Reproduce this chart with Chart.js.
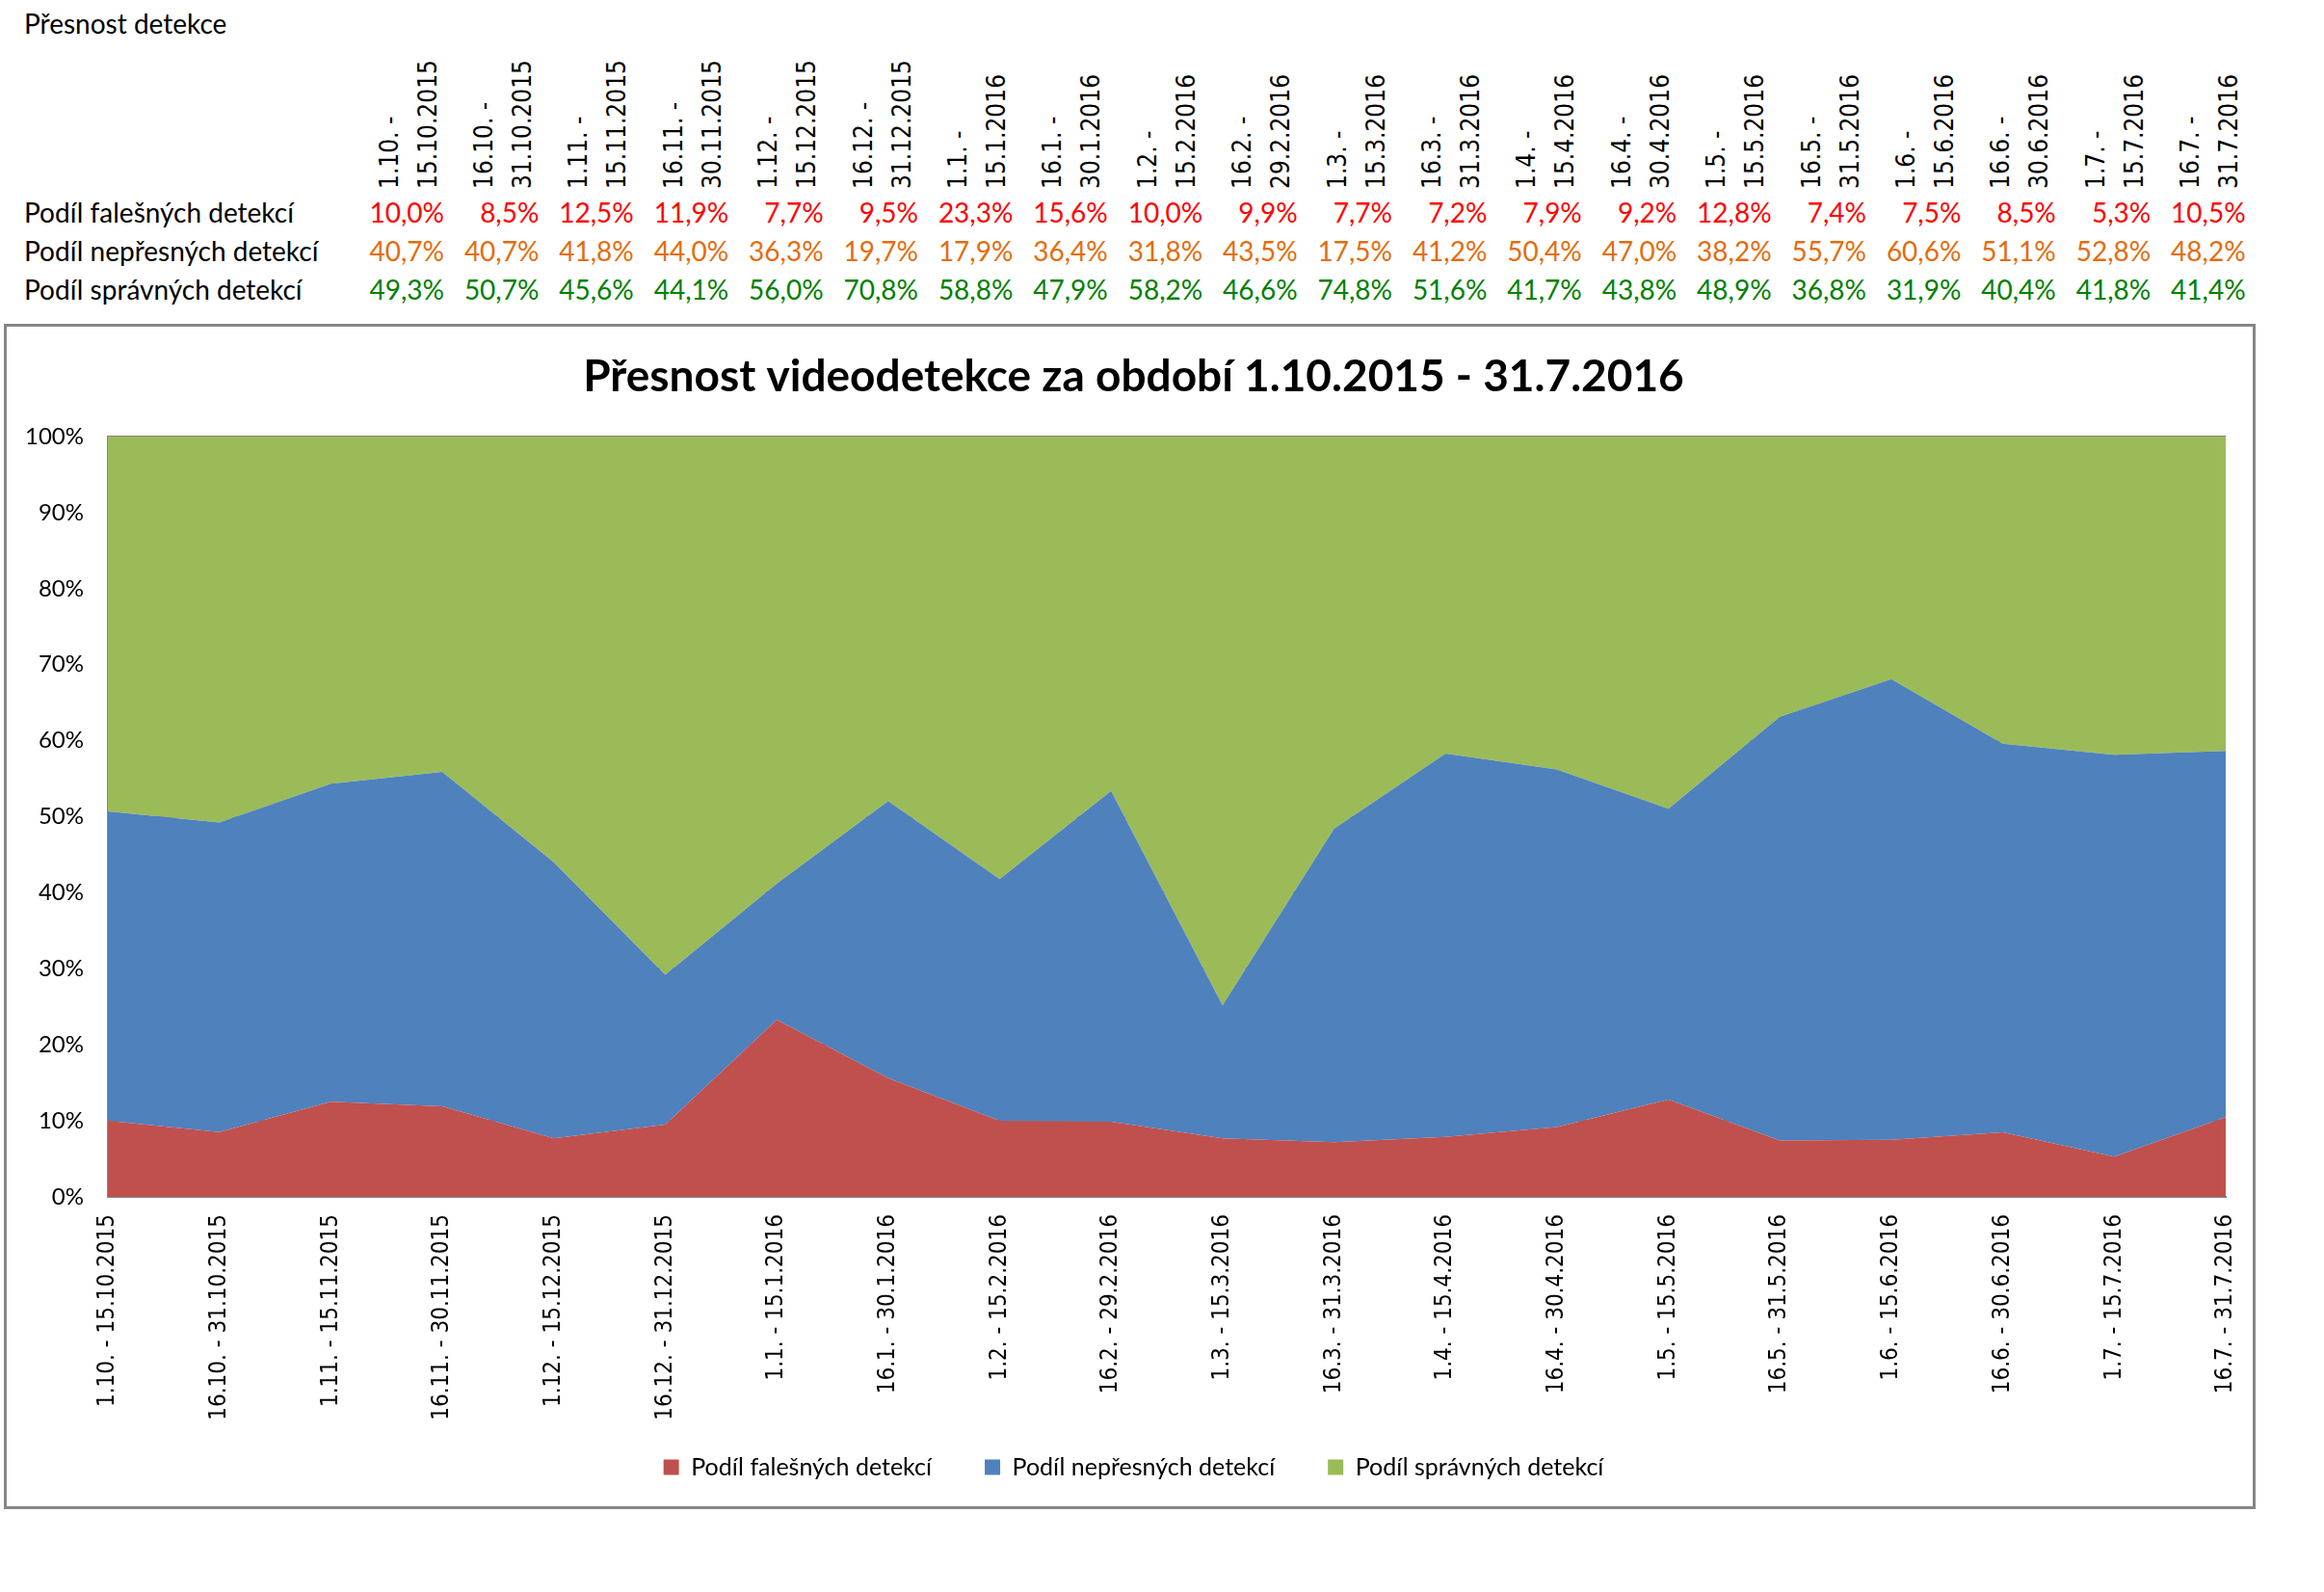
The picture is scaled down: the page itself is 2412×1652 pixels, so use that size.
<!DOCTYPE html>
<html>
<head>
<meta charset="utf-8">
<script src="https://cdn.jsdelivr.net/npm/chart.js@4.4.1/dist/chart.umd.min.js"></script>
<style>
html,body{margin:0;padding:0;background:#fff;width:2412px;height:1652px;overflow:hidden;}
.t{position:absolute;font-family:Lato,sans-serif;font-size:28px;white-space:nowrap;line-height:1;color:#000;}
.h{position:absolute;font-family:'DejaVu Sans Condensed','DejaVu Sans',sans-serif;font-size:26px;white-space:nowrap;line-height:1;transform-origin:0 0;transform:rotate(-90deg);color:#000;}
#box{position:absolute;left:4px;top:336px;width:2337px;height:1230px;border:3px solid #868686;box-sizing:border-box;background:#fff;}
#wrap{position:absolute;left:0;top:0;width:2331px;height:1224px;}
</style>
</head>
<body>
<div id="table"></div>
<div id="box"><div id="wrap"><canvas id="c" width="2331" height="1224" style="width:2331px;height:1224px"></canvas></div></div>
<script>
// ---- data ----
const headerLine1 = ["1.10. -","16.10. -","1.11. -","16.11. -","1.12. -","16.12. -","1.1. -","16.1. -","1.2. -","16.2. -","1.3. -","16.3. -","1.4. -","16.4. -","1.5. -","16.5. -","1.6. -","16.6. -","1.7. -","16.7. -"];
const headerLine2 = ["15.10.2015","31.10.2015","15.11.2015","30.11.2015","15.12.2015","31.12.2015","15.1.2016","30.1.2016","15.2.2016","29.2.2016","15.3.2016","31.3.2016","15.4.2016","30.4.2016","15.5.2016","31.5.2016","15.6.2016","30.6.2016","15.7.2016","31.7.2016"];
const categories = headerLine1.map((a, i) => a + " " + headerLine2[i]);
const falseShare   = [10.0, 8.5, 12.5, 11.9, 7.7, 9.5, 23.3, 15.6, 10.0, 9.9, 7.7, 7.2, 7.9, 9.2, 12.8, 7.4, 7.5, 8.5, 5.3, 10.5];
const inexactShare = [40.7, 40.7, 41.8, 44.0, 36.3, 19.7, 17.9, 36.4, 31.8, 43.5, 17.5, 41.2, 50.4, 47.0, 38.2, 55.7, 60.6, 51.1, 52.8, 48.2];
const correctShare = [49.3, 50.7, 45.6, 44.1, 56.0, 70.8, 58.8, 47.9, 58.2, 46.6, 74.8, 51.6, 41.7, 43.8, 48.9, 36.8, 31.9, 40.4, 41.8, 41.4];
const seriesNames = ["Podíl falešných detekcí", "Podíl nepřesných detekcí", "Podíl správných detekcí"];
const tableTitle = "Přesnost detekce";
const chartTitle = "Přesnost videodetekce za období 1.10.2015 - 31.7.2016";
const yTickValues = [0, 10, 20, 30, 40, 50, 60, 70, 80, 90, 100];

// ---- table above the chart ----
const table = document.getElementById('table');
function addText(cls, text, style) {
  const d = document.createElement('div');
  d.className = cls; d.textContent = text;
  Object.assign(d.style, style);
  table.appendChild(d);
  return d;
}
addText('t', tableTitle, {left: '25px', top: '10px', fontSize: '28px'});
const rowSeries = [falseShare, inexactShare, correctShare];
const rowColors = ['#FF0000', '#E46C0A', '#008000'];
const rowTops = [206, 246, 286];
const colRight0 = 461, colStep = 98.4;
rowSeries.forEach((vals, r) => {
  addText('t', seriesNames[r], {left: '25px', top: rowTops[r] + 'px'});
  vals.forEach((v, i) => {
    const right = colRight0 + i * colStep;
    addText('t', v.toFixed(1).replace('.', ',') + '%', {right: (2412 - right) + 'px', top: rowTops[r] + 'px', color: rowColors[r]});
  });
});
headerLine1.forEach((l1, i) => {
  const right = colRight0 + i * colStep;
  addText('h', l1, {left: (right - 58 - 12.5) + 'px', top: '196px'});
  addText('h', headerLine2[i], {left: (right - 18 - 12.5) + 'px', top: '196px'});
});

// ---- chart ----
function norm(series) {
  return series.map((v, i) => v / (falseShare[i] + inexactShare[i] + correctShare[i]) * 100);
}
const colors = ['#C0504D', '#4F81BD', '#9BBB59'];
const ds = [falseShare, inexactShare, correctShare].map((s, k) => ({
  label: seriesNames[k],
  data: norm(s),
  backgroundColor: colors[k],
  borderColor: 'rgba(0,0,0,0)',
  borderWidth: 0,
  fill: k === 0 ? 'origin' : '-1',
  pointRadius: 0,
  pointHoverRadius: 0,
  tension: 0
}));

// let the axis labels draw outside their own layout boxes
const unclip = {
  id: 'unclip',
  afterLayout(chart) {
    chart.scales.y.left = 0;
    chart.scales.x.bottom = chart.height;
  }
};

new Chart(document.getElementById('c'), {
  type: 'line',
  data: {labels: categories, datasets: ds},
  plugins: [unclip],
  options: {
    responsive: false,
    animation: false,
    devicePixelRatio: 1,
    layout: {padding: {left: 36, right: 28, top: 0, bottom: 18}},
    plugins: {
      title: {
        display: true, text: chartTitle, color: '#000',
        font: {family: 'Lato', size: 46, weight: 'bold', lineHeight: 1.2},
        padding: {top: 24.4, bottom: 34.4}
      },
      legend: {
        position: 'bottom',
        labels: {font: {family: 'Lato', size: 25}, color: '#000', boxWidth: 16, boxHeight: 16, padding: 55}
      },
      tooltip: {enabled: false}
    },
    scales: {
      x: {
        offset: false,
        grid: {display: false, drawTicks: false},
        border: {display: true, color: '#868686', width: 2},
        ticks: {autoSkip: false, maxRotation: 90, minRotation: 90, padding: 18, color: '#000',
          font: {family: "'DejaVu Sans Condensed', 'DejaVu Sans'", size: 24}},
        afterFit: (s) => { s.height = 213; s.paddingLeft = 0; s.paddingRight = 0; }
      },
      y: {
        stacked: true, min: 0, max: 100,
        afterBuildTicks: (s) => { s.ticks = yTickValues.map(v => ({value: v})); },
        ticks: {callback: (v) => v + '%', padding: 25, color: '#000', font: {family: 'Lato', size: 24}},
        grid: {color: '#868686', lineWidth: 2, drawTicks: false},
        border: {color: '#868686', width: 2},
        afterFit: (s) => { s.width = 69; }
      }
    }
  }
});
</script>
</body>
</html>
